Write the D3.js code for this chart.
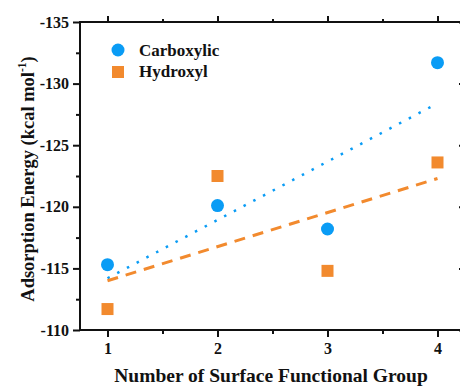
<!DOCTYPE html>
<html lang="en">
<head>
    <meta charset="UTF-8" />
    <title>Adsorption Energy</title>
    <script src="https://cdnjs.cloudflare.com/ajax/libs/d3/7.6.1/d3.min.js"></script>
    <style>
        body { margin: 0; background: #fff; }
    </style>
</head>
<body>
    <div id="chart"></div>
    <script>
        // values
        const groups = [1, 2, 3, 4];
        const carboxylic = [-115.3, -120.1, -118.2, -131.7];
        const hydroxyl = [-111.7, -122.5, -114.8, -123.6];
        // linear fit end points (x = 1 and x = 4)
        const fitX = [1, 4];
        const carboxylicFit = [-114.2, -128.4];
        const hydroxylFit = [-114.0, -122.3];
        const yTicks = [-135, -130, -125, -120, -115, -110];
        const yMinor = [-132.5, -127.5, -122.5, -117.5, -112.5];
        const xMinor = [1.5, 2.5, 3.5];

        const width = 460, height = 386;
        const blue = "#0a9cf5", orange = "#f28a2e";
        const font = "'Times New Roman', 'Liberation Serif', 'DejaVu Serif', serif";
        const plotL = 80, plotT = 22, plotR = 465, plotB = 330;

        const svg = d3.select("#chart").append("svg")
            .attr("width", width)
            .attr("height", height)
            .attr("font-family", font)
            .attr("font-weight", "bold");

        const x = d3.scaleLinear().domain([0.75, 4.25]).range([plotL, plotR]);
        const y = d3.scaleLinear().domain([-135, -110]).range([plotT, plotB]);

        // axes: major + minor ticks, outward on left/bottom, inward on top/right
        function ticks(axis, size, values, labels, tx, ty, pad) {
            const g = svg.append("g").attr("transform", `translate(${tx},${ty})`)
                .call(axis.tickValues(values).tickSize(size).tickPadding(pad || 4)
                    .tickFormat(labels ? (d => String(d)) : ""))
                .attr("font-family", font)
                .attr("font-size", 16);
            g.select(".domain").remove();
            g.selectAll("line").attr("stroke", "#111").attr("stroke-width", 2);
            g.selectAll("text").attr("fill", "#111");
            return g;
        }
        ticks(d3.axisLeft(y), 7, yTicks, true, plotL, 0, 4);
        ticks(d3.axisLeft(y), 4, yMinor, false, plotL, 0);
        ticks(d3.axisBottom(x), 7, groups, true, 0, plotB, 6);
        ticks(d3.axisBottom(x), 4, xMinor, false, 0, plotB);
        ticks(d3.axisBottom(x), -6, groups, false, 0, plotT);
        ticks(d3.axisBottom(x), -3, xMinor, false, 0, plotT);
        ticks(d3.axisRight(y), -6, yTicks, false, plotR, 0);
        ticks(d3.axisRight(y), -3, yMinor, false, plotR, 0);

        svg.append("rect")
            .attr("x", plotL).attr("y", plotT)
            .attr("width", plotR - plotL).attr("height", plotB - plotT)
            .attr("fill", "none").attr("stroke", "#111").attr("stroke-width", 2);

        // fit lines
        const line = d3.line().x(d => x(d[0])).y(d => y(d[1]));
        svg.append("path")
            .datum(fitX.map((v, i) => [v, carboxylicFit[i]]))
            .attr("d", line)
            .attr("fill", "none").attr("stroke", blue)
            .attr("stroke-width", 2.5).attr("stroke-dasharray", "2.5,8.5");
        svg.append("path")
            .datum(fitX.map((v, i) => [v, hydroxylFit[i]]))
            .attr("d", line)
            .attr("fill", "none").attr("stroke", orange)
            .attr("stroke-width", 3).attr("stroke-dasharray", "11,8");

        // points
        svg.selectAll(".carb").data(groups).join("circle")
            .attr("cx", d => x(d))
            .attr("cy", (d, i) => y(carboxylic[i]))
            .attr("r", 6.5).attr("fill", blue);
        svg.selectAll(".hyd").data(groups).join("rect")
            .attr("x", d => x(d) - 6)
            .attr("y", (d, i) => y(hydroxyl[i]) - 6)
            .attr("width", 12).attr("height", 12).attr("fill", orange);

        // legend
        svg.append("circle").attr("cx", 118).attr("cy", 50).attr("r", 6.5).attr("fill", blue);
        svg.append("text").attr("x", 139).attr("y", 56).attr("font-size", 17).attr("fill", "#111").text("Carboxylic");
        svg.append("rect").attr("x", 112).attr("y", 66).attr("width", 12).attr("height", 12).attr("fill", orange);
        svg.append("text").attr("x", 139).attr("y", 77).attr("font-size", 17).attr("fill", "#111").text("Hydroxyl");

        // axis titles
        svg.append("text")
            .attr("x", 271).attr("y", 382)
            .attr("text-anchor", "middle").attr("font-size", 19.5).attr("fill", "#111")
            .text("Number of Surface Functional Group");
        const yt = svg.append("text")
            .attr("transform", "translate(34,179) rotate(-90)")
            .attr("text-anchor", "middle").attr("font-size", 18.5).attr("fill", "#111");
        yt.append("tspan").text("Adsorption Energy (kcal mol");
        yt.append("tspan").attr("dy", -8).attr("font-size", 11.5).text("-1");
        yt.append("tspan").attr("dy", 8).text(")");
    </script>
</body>
</html>
